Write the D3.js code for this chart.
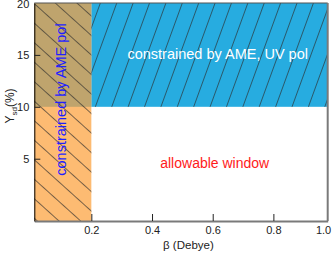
<!DOCTYPE html>
<html>
<head>
<meta charset="utf-8">
<script src="https://cdn.jsdelivr.net/npm/d3@7"></script>
<style>
  body { margin: 0; background: #fff; }
  svg { display: block; font-family: "Liberation Sans", Arial, sans-serif; }
  .tick text { font-size: 11px; fill: #222; }
  .tick line { stroke: #222; }
</style>
</head>
<body>
<div id="chart"></div>
<script>
// regions of the (beta, Y_sd) plane
const regionLabels = ["constrained by AME pol", "constrained by AME, UV pol", "allowable window"];
const regionBeta0 = [0, 0.2, 0.2];
const regionBeta1 = [0.2, 1.0, 1.0];
const regionY0 = [-1, 10, -1];
const regionY1 = [20, 20, 10];

const xTicks = [0.2, 0.4, 0.6, 0.8, 1.0];
const xTickLabels = ["0.2", "0.4", "0.6", "0.8", "1.0"];
const yTicks = [5, 10, 15, 20];
const yTickLabels = ["5", "10", "15", "20"];

const W = 332, H = 253;
const margin = {top: 3, right: 4.3, bottom: 32, left: 34.3},
    width = W - margin.left - margin.right,
    height = H - margin.top - margin.bottom;

const x = d3.scaleLinear()
    .domain([0.012, 0.979])
    .range([0, width])
    .clamp(true);

const y = d3.scaleLinear()
    .domain([-1, 20])
    .range([height, 0]);

const svg = d3.select('#chart').append('svg')
    .attr('width', W)
    .attr('height', H);

const defs = svg.append('defs');

function hatch(id, angle, gap) {
    const p = defs.append('pattern')
        .attr('id', id)
        .attr('patternUnits', 'userSpaceOnUse')
        .attr('width', 30)
        .attr('height', gap)
        .attr('patternTransform', 'rotate(' + angle + ')');
    p.append('line')
        .attr('x1', 0).attr('x2', 30)
        .attr('y1', 0.4).attr('y2', 0.4)
        .style('stroke', '#2a2a2a')
        .style('stroke-width', 0.7);
}
hatch('hatch-back', 42, 14.5);
hatch('hatch-fwd', -70, 15.4);

const g = svg.append('g').attr('transform', 'translate(' + margin.left + ',' + margin.top + ')');

function rect(sel, i) {
    return sel.append('rect')
        .attr('x', x(regionBeta0[i]))
        .attr('y', y(regionY1[i]))
        .attr('width', x(regionBeta1[i]) - x(regionBeta0[i]))
        .attr('height', y(regionY0[i]) - y(regionY1[i]));
}

// AME pol column (orange), UV pol band (blue), overlap (tan)
rect(g, 0).style('fill', '#fdbb72');
rect(g, 1).style('fill', '#27ace0');
g.append('rect')
    .attr('x', x(regionBeta0[0]))
    .attr('y', y(regionY1[1]))
    .attr('width', x(regionBeta1[0]) - x(regionBeta0[0]))
    .attr('height', y(regionY0[1]) - y(regionY1[1]))
    .style('fill', '#bfa46d');

rect(g, 0).style('fill', 'url(#hatch-back)');
rect(g, 1).style('fill', 'url(#hatch-fwd)');

// axes
const xAxis = g.append('g')
    .attr('transform', 'translate(0,' + height + ')')
    .call(d3.axisBottom(x).tickValues(xTicks)
        .tickFormat((d, i) => xTickLabels[i])
        .tickSizeInner(-7).tickSizeOuter(0).tickPadding(5));
xAxis.select('.domain').style('stroke', '#7a7a7a').style('stroke-width', 2);
xAxis.selectAll('.tick text').filter((d, i) => i === xTicks.length - 1)
    .attr('text-anchor', 'end').attr('dx', 3);
xAxis.selectAll('.tick line').filter((d, i) => i === xTicks.length - 1).remove();

const yAxis = g.append('g')
    .call(d3.axisLeft(y).tickValues(yTicks)
        .tickFormat((d, i) => yTickLabels[i])
        .tickSizeInner(-6).tickSizeOuter(0).tickPadding(5));
yAxis.select('.domain').style('stroke', '#000').style('stroke-width', 1);
yAxis.selectAll('.tick line').filter(d => d === 20).remove();
yAxis.selectAll('.tick text').filter(d => d === 20).attr('dy', '0.45em');

// frame top and right
g.append('line')
    .attr('x1', 0).attr('x2', width)
    .attr('y1', y(20)).attr('y2', y(20))
    .style('stroke', '#555').style('stroke-width', 1.2);
g.append('line')
    .attr('x1', width).attr('x2', width)
    .attr('y1', 0).attr('y2', height)
    .style('stroke', '#7a7a7a').style('stroke-width', 2);

// region labels
g.append('text')
    .attr('transform', 'translate(' + (x(0.1) + 5) + ',' + y(10.7) + ') rotate(-90)')
    .attr('text-anchor', 'middle')
    .style('font-size', '14.5px')
    .style('fill', '#1f1fff')
    .text(regionLabels[0]);

g.append('text')
    .attr('x', x(0.6) + 5)
    .attr('y', y(15) + 4)
    .attr('text-anchor', 'middle')
    .style('font-size', '14.5px')
    .style('fill', '#fff')
    .text(regionLabels[1]);

g.append('text')
    .attr('x', x(0.6) + 2)
    .attr('y', y(4.6) + 5)
    .attr('text-anchor', 'middle')
    .style('font-size', '14px')
    .style('fill', '#ff1a1a')
    .text(regionLabels[2]);

// axis titles
svg.append('text')
    .attr('x', margin.left + x(0.52))
    .attr('y', 249)
    .attr('text-anchor', 'middle')
    .style('font-size', '11.5px')
    .style('fill', '#222')
    .text('β (Debye)');

const yl = svg.append('text')
    .attr('transform', 'translate(14,106) rotate(-90)')
    .attr('text-anchor', 'middle')
    .style('font-size', '12px')
    .style('fill', '#222');
yl.append('tspan').text('Y');
yl.append('tspan').attr('dy', 3).style('font-size', '8px').text('sd');
yl.append('tspan').attr('dy', -3).text('(%)');
</script>
</body>
</html>
